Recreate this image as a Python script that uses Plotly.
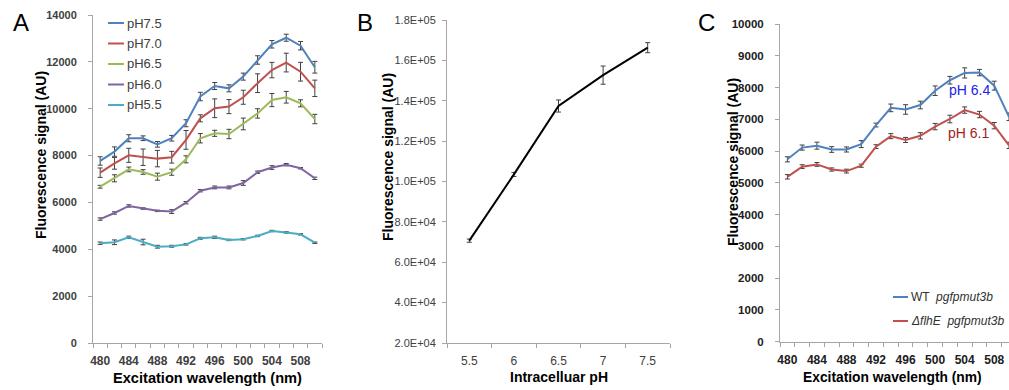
import plotly.graph_objects as go

# ---------------- Panel A data ----------------
wl_a = [480, 482, 484, 486, 488, 490, 492, 494, 496, 498, 500, 502, 504, 506, 508, 510]
ph_names = ["pH7.5", "pH7.0", "pH6.5", "pH6.0", "pH5.5"]
ph75 = [7770, 8170, 8740, 8740, 8480, 8740, 9380, 10520, 10970, 10870, 11370, 12080, 12750, 13030, 12690, 11770]
ph70 = [7270, 7670, 8010, 7930, 7870, 7930, 8670, 9590, 10020, 10090, 10490, 11090, 11650, 11970, 11580, 10870]
ph65 = [6670, 7030, 7410, 7300, 7100, 7290, 7840, 8740, 8950, 8920, 9350, 9800, 10370, 10490, 10230, 9560]
ph60 = [5290, 5550, 5850, 5740, 5640, 5610, 5990, 6500, 6640, 6640, 6830, 7290, 7490, 7610, 7460, 7030]
ph55 = [4260, 4300, 4510, 4310, 4110, 4130, 4210, 4470, 4510, 4400, 4430, 4570, 4780, 4720, 4640, 4280]
err75 = [180, 200, 150, 100, 120, 120, 150, 180, 150, 150, 150, 180, 160, 150, 180, 250]
err70 = [200, 250, 300, 350, 350, 250, 400, 150, 400, 300, 300, 400, 330, 400, 400, 350]
err65 = [60, 150, 100, 100, 150, 130, 150, 200, 130, 200, 250, 200, 280, 250, 150, 200]
err60 = [50, 50, 50, 30, 30, 80, 50, 50, 60, 60, 100, 50, 80, 50, 30, 50]
err55 = [50, 100, 50, 120, 60, 40, 30, 40, 50, 30, 30, 30, 30, 30, 30, 30]
a_colors = ["#4F81BD", "#C0504D", "#9BBB59", "#8064A2", "#4BACC6"]
a_xticks = [480, 484, 488, 492, 496, 500, 504, 508]
a_yticks = [0, 2000, 4000, 6000, 8000, 10000, 12000, 14000]

# ---------------- Panel B data ----------------
ph_b = [5.5, 6.0, 6.5, 7.0, 7.5]
ph_b_labels = ["5.5", "6", "6.5", "7", "7.5"]
sig_b = [70700, 103500, 137400, 152700, 166300]
err_b = [800, 1000, 3000, 4500, 2500]
b_yticks = [20000, 40000, 60000, 80000, 100000, 120000, 140000, 160000, 180000]
b_yticktext = ["2.0E+04", "4.0E+04", "6.0E+04", "8.0E+04", "1.0E+05",
               "1.2E+05", "1.4E+05", "1.6E+05", "1.8E+05"]

# ---------------- Panel C data ----------------
wl_c = [480, 482, 484, 486, 488, 490, 492, 494, 496, 498, 500, 502, 504, 506, 508, 510]
wt = [5740, 6110, 6170, 6050, 6050, 6220, 6820, 7360, 7310, 7450, 7900, 8230, 8460, 8470, 8060, 7080]
flhe = [5190, 5510, 5580, 5420, 5370, 5540, 6140, 6470, 6350, 6480, 6770, 7010, 7290, 7150, 6800, 6180]
err_wt = [80, 80, 110, 90, 80, 110, 60, 120, 150, 120, 150, 120, 160, 100, 140, 120]
err_flhe = [70, 60, 60, 50, 60, 50, 60, 80, 80, 100, 100, 120, 100, 100, 100, 100]
c_names = ["WT  <i>pgfpmut3b</i>", "<i>\u0394flhE</i>  <i>pgfpmut3b</i>"]
c_colors = ["#4F81BD", "#C0504D"]
c_xticks = [480, 484, 488, 492, 496, 500, 504, 508]
c_yticks = [0, 1000, 2000, 3000, 4000, 5000, 6000, 7000, 8000, 9000, 10000]

W, H = 1009, 390
FONT = "Liberation Sans, Arial, sans-serif"
ERRC = "#404040"
AXC = "#A6A6A6"


def px(x):
    return x / W


def py(y):
    return 1 - y / H


fig = go.Figure()

# Panel A traces
a_series = [ph75, ph70, ph65, ph60, ph55]
a_errs = [err75, err70, err65, err60, err55]
for name, ys, es, col in zip(ph_names, a_series, a_errs, a_colors):
    fig.add_trace(go.Scatter(
        x=wl_a, y=ys, name=name, mode="lines", showlegend=False,
        line=dict(color=col, width=2),
        error_y=dict(type="data", array=es, color=ERRC, thickness=1, width=2.5),
        xaxis="x", yaxis="y"))

# Panel B trace
fig.add_trace(go.Scatter(
    x=ph_b, y=sig_b, mode="lines", showlegend=False,
    line=dict(color="black", width=2),
    error_y=dict(type="data", array=err_b, color=ERRC, thickness=1, width=2.5),
    xaxis="x2", yaxis="y2"))

# Panel C traces
for name, ys, es, col in zip(c_names, [wt, flhe], [err_wt, err_flhe], c_colors):
    fig.add_trace(go.Scatter(
        x=wl_c, y=ys, name=name, mode="lines", showlegend=False,
        line=dict(color=col, width=2),
        error_y=dict(type="data", array=es, color=ERRC, thickness=1, width=2.5),
        xaxis="x3", yaxis="y3"))

common_axis = dict(showgrid=False, zeroline=False, showline=True, linecolor=AXC,
                   linewidth=1, ticks="outside", ticklen=4, tickcolor=AXC, automargin=False)
xminor = dict(ticks="outside", ticklen=4, tickcolor=AXC)

fig.update_layout(
    template="none",
    width=W, height=H, margin=dict(l=0, r=0, t=0, b=0, pad=0, autoexpand=False),
    paper_bgcolor="white", plot_bgcolor="white",
    font=dict(family=FONT, color="#404040"),
    xaxis=dict(**{**common_axis, "ticks": ""}, domain=[px(93), px(322)], range=[479, 511],
               tickvals=a_xticks, tickformat="d", anchor="y", ticklabelstandoff=7,
               tickfont=dict(size=12, color="#404040", weight="bold"),
               minor=dict(tick0=479, dtick=2, **xminor)),
    yaxis=dict(**common_axis, domain=[py(343), py(15)], range=[0, 14000],
               tickvals=a_yticks, tickformat="d", anchor="x", ticklabelstandoff=9,
               tickfont=dict(size=11, color="#404040", weight="bold")),
    xaxis2=dict(**{**common_axis, "ticks": ""}, domain=[px(447), px(670)], range=[5.25, 7.75],
                tickvals=ph_b, ticktext=ph_b_labels, anchor="y2", ticklabelstandoff=7,
                tickfont=dict(size=12, color="#404040"),
                minor=dict(tick0=5.25, dtick=0.5, **xminor)),
    yaxis2=dict(**common_axis, domain=[py(343), py(20)], range=[20000, 180000],
                tickvals=b_yticks, ticktext=b_yticktext, anchor="x2", ticklabelstandoff=4,
                tickfont=dict(size=11, color="#404040")),
    xaxis3=dict(**{**common_axis, "ticks": ""}, domain=[px(780), 1.0], range=[479, 510],
                tickvals=c_xticks, tickformat="d", anchor="y3", ticklabelstandoff=7,
                tickfont=dict(size=12, color="#202020", weight="bold"),
                minor=dict(tick0=479, dtick=2, **xminor)),
    yaxis3=dict(**common_axis, domain=[py(341.7), py(24)], range=[0, 10000],
                tickvals=c_yticks, tickformat="d", anchor="x3", ticklabelstandoff=9,
                tickfont=dict(size=11.5, color="#202020", weight="bold")),
)

annotations = []
shapes = []

# Panel letters
for letter, x in [("A", 21), ("B", 365), ("C", 706)]:
    annotations.append(dict(text=letter, x=px(x), y=py(22), xref="paper", yref="paper",
                            showarrow=False, xanchor="center", yanchor="middle",
                            font=dict(size=24, color="black", family=FONT)))

# Axis titles
for text, x, y, s in [("<b>Excitation wavelength (nm)</b>", 207, 378, 14.6),
                      ("<b>Intracelluar pH</b>", 559, 377, 14),
                      ("<b>Excitation wavelength (nm)</b>", 892, 377, 13.8)]:
    annotations.append(dict(text=text, x=px(x), y=py(y), xref="paper", yref="paper",
                            showarrow=False, xanchor="center", yanchor="middle",
                            font=dict(size=s, color="black", family=FONT)))
for text, x, y in [("<b>Fluorescence signal (AU)</b>", 41, 155),
                   ("<b>Fluorescence signal (AU)</b>", 388, 157),
                   ("<b>Fluorescence signal (AU)</b>", 733, 162)]:
    annotations.append(dict(text=text, x=px(x), y=py(y), xref="paper", yref="paper",
                            showarrow=False, xanchor="center", yanchor="middle", textangle=-90,
                            font=dict(size=14, color="black", family=FONT)))

# Panel A legend
leg_y = [23, 43.5, 64, 84.5, 105]
for name, col, y in zip(ph_names, a_colors, leg_y):
    shapes.append(dict(type="line", xref="paper", yref="paper", x0=px(108), x1=px(124),
                       y0=py(y), y1=py(y), line=dict(color=col, width=2)))
    annotations.append(dict(text=name, x=px(125), y=py(y), xref="paper", yref="paper",
                            showarrow=False, xanchor="left", yanchor="middle",
                            font=dict(size=13, color="#404040", family=FONT)))

# Panel C legend
for name, col, y in zip(c_names, c_colors, [297, 321]):
    shapes.append(dict(type="line", xref="paper", yref="paper", x0=px(893), x1=px(908),
                       y0=py(y), y1=py(y), line=dict(color=col, width=2)))
    annotations.append(dict(text=name, x=px(909), y=py(y), xref="paper", yref="paper",
                            showarrow=False, xanchor="left", yanchor="middle",
                            font=dict(size=12, color="#303030", family=FONT)))

# Panel C pH labels
annotations.append(dict(text="pH 6.4", x=px(969), y=py(90), xref="paper", yref="paper",
                        showarrow=False, xanchor="center", yanchor="middle",
                        font=dict(size=14, color="#2222EE", family=FONT)))
annotations.append(dict(text="pH 6.1", x=px(968), y=py(133), xref="paper", yref="paper",
                        showarrow=False, xanchor="center", yanchor="middle",
                        font=dict(size=14, color="#A01E1E", family=FONT)))

fig.update_layout(annotations=annotations, shapes=shapes)
fig.write_html("out.html", config={"displayModeBar": False},
               post_script="document.body.style.margin='0px';")
